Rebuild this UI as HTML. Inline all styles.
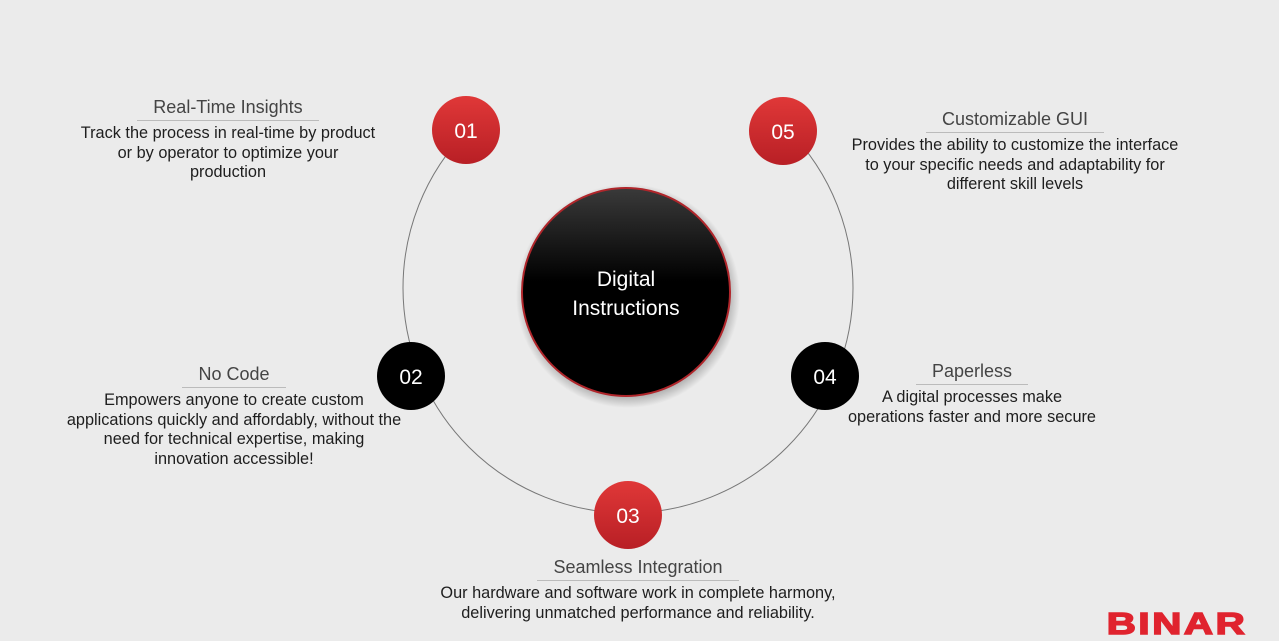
<!DOCTYPE html>
<html><head><style>
body{margin:0;width:1279px;height:641px;background:#ebebeb;position:relative;overflow:hidden;font-family:"Liberation Sans",sans-serif}
.t{position:absolute;text-align:center;color:#1e1e1e;font-size:16.3px;line-height:19.5px;white-space:nowrap}
.h{display:inline-block;font-size:18px;color:#444;border-bottom:1px solid #bbb;padding:0 16px 2px;margin-bottom:3px;line-height:22px}
</style></head><body>
<svg width="1279" height="641" style="position:absolute;left:0;top:0">
<defs>
<linearGradient id="r" x1="0" y1="0" x2="0" y2="1"><stop offset="0" stop-color="#e03838"/><stop offset="1" stop-color="#b81f25"/></linearGradient>
<linearGradient id="b" x1="0" y1="0" x2="0" y2="1"><stop offset="0" stop-color="#3a3a3a"/><stop offset="0.45" stop-color="#000"/><stop offset="1" stop-color="#000"/></linearGradient>
<radialGradient id="s"><stop offset="0.85" stop-color="#000" stop-opacity="0.35"/><stop offset="1" stop-color="#000" stop-opacity="0"/></radialGradient>
<clipPath id="c"><rect x="0" y="125" width="1279" height="520"/></clipPath>
</defs>
<circle cx="628" cy="288" r="225" fill="none" stroke="#777" stroke-width="1" clip-path="url(#c)"/>
<circle cx="628" cy="296" r="112" fill="url(#s)"/>
<circle cx="626" cy="292" r="104" fill="url(#b)" stroke="#b0262b" stroke-width="2"/>
<g font-family="Liberation Sans,sans-serif" font-size="21" fill="#fff" text-anchor="middle">
<text x="626" y="286">Digital</text><text x="626" y="315">Instructions</text>
<circle cx="466" cy="130" r="34" fill="url(#r)"/><text x="466" y="138">01</text>
<circle cx="783" cy="131" r="34" fill="url(#r)"/><text x="783" y="139">05</text>
<circle cx="411" cy="376" r="34" fill="#000"/><text x="411" y="384">02</text>
<circle cx="825" cy="376" r="34" fill="#000"/><text x="825" y="384">04</text>
<circle cx="628" cy="515" r="34" fill="url(#r)"/><text x="628" y="523">03</text>
</g>
<text x="0" y="0" font-family="Liberation Sans,sans-serif" font-weight="bold" font-size="31" fill="#e0232e" text-anchor="middle" letter-spacing="2" stroke="#e0232e" stroke-width="1.5" transform="translate(1177,634) scale(1.3,1)">BINAR</text>
</svg>
<div class="t" style="left:28px;top:96px;width:400px"><span class="h">Real-Time Insights</span><br>Track the process in real-time by product<br>or by operator to optimize your<br>production</div>
<div class="t" style="left:815px;top:108px;width:400px"><span class="h">Customizable GUI</span><br>Provides the ability to customize the interface<br>to your specific needs and adaptability for<br>different skill levels</div>
<div class="t" style="left:42px;top:363px;width:384px"><span class="h">No Code</span><br>Empowers anyone to create custom<br>applications quickly and affordably, without the<br>need for technical expertise, making<br>innovation accessible!</div>
<div class="t" style="left:842px;top:360px;width:260px"><span class="h">Paperless</span><br>A digital processes make<br>operations faster and more secure</div>
<div class="t" style="left:388px;top:556px;width:500px"><span class="h">Seamless Integration</span><br>Our hardware and software work in complete harmony,<br>delivering unmatched performance and reliability.</div>
</body></html>
